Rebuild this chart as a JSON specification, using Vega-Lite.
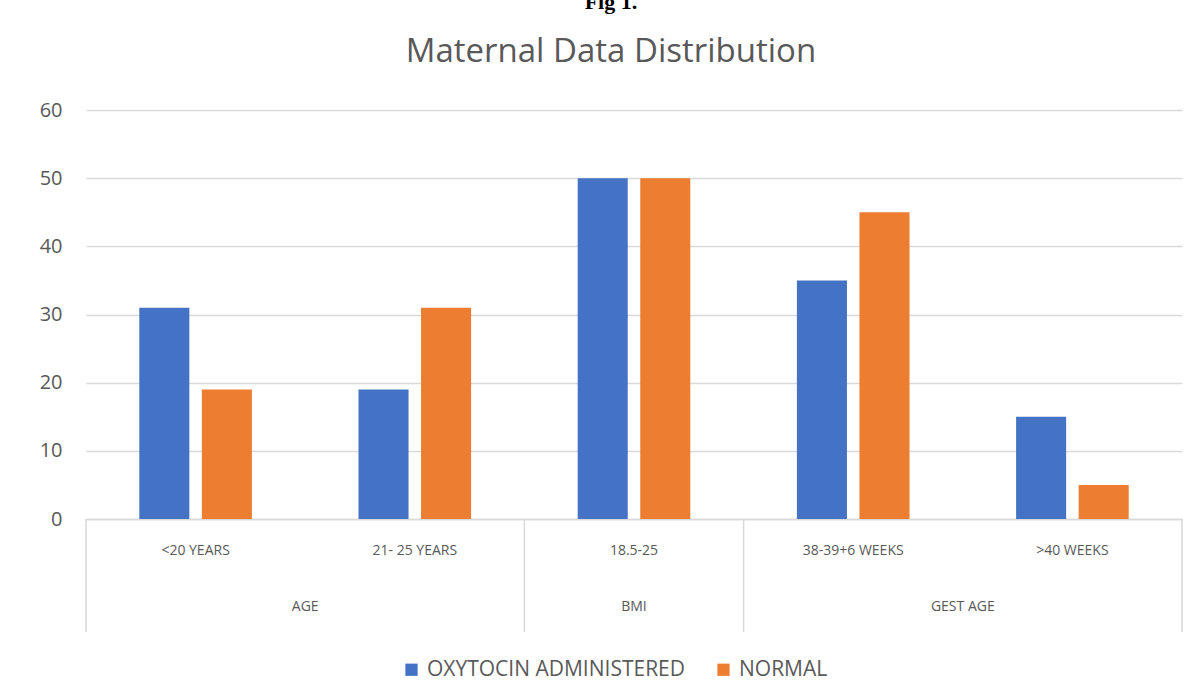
{
  "$schema": "https://vega.github.io/schema/vega-lite/v6.json",
  "background": "white",
  "padding": {"left": 39, "top": -9, "right": 18, "bottom": 20},
  "title": {
    "text": "Fig 1.",
    "font": "Liberation Serif",
    "fontWeight": "bold",
    "fontSize": 22,
    "color": "#000000",
    "subtitle": "Maternal Data Distribution",
    "subtitleFont": "Open Sans",
    "subtitleFontSize": 33,
    "subtitleColor": "#595959",
    "subtitlePadding": 22,
    "offset": 30,
    "anchor": "middle",
    "frame": "bounds"
  },
  "datasets": {
    "bars": [
      {"category": "<20 YEARS", "group": "AGE", "series": "OXYTOCIN ADMINISTERED", "value": 31},
      {"category": "<20 YEARS", "group": "AGE", "series": "NORMAL", "value": 19},
      {"category": "21- 25 YEARS", "group": "AGE", "series": "OXYTOCIN ADMINISTERED", "value": 19},
      {"category": "21- 25 YEARS", "group": "AGE", "series": "NORMAL", "value": 31},
      {"category": "18.5-25", "group": "BMI", "series": "OXYTOCIN ADMINISTERED", "value": 50},
      {"category": "18.5-25", "group": "BMI", "series": "NORMAL", "value": 50},
      {"category": "38-39+6 WEEKS", "group": "GEST AGE", "series": "OXYTOCIN ADMINISTERED", "value": 35},
      {"category": "38-39+6 WEEKS", "group": "GEST AGE", "series": "NORMAL", "value": 45},
      {"category": ">40 WEEKS", "group": "GEST AGE", "series": "OXYTOCIN ADMINISTERED", "value": 15},
      {"category": ">40 WEEKS", "group": "GEST AGE", "series": "NORMAL", "value": 5}
    ],
    "groupStarts": [
      {"category": "<20 YEARS"},
      {"category": "18.5-25"},
      {"category": "38-39+6 WEEKS"}
    ],
    "groupEnd": [
      {"category": ">40 WEEKS"}
    ],
    "subLabels": [
      {"category": "<20 YEARS", "level": "sub"},
      {"category": "21- 25 YEARS", "level": "sub"},
      {"category": "18.5-25", "level": "sub"},
      {"category": "38-39+6 WEEKS", "level": "sub"},
      {"category": ">40 WEEKS", "level": "sub"}
    ],
    "groupLabelsBetween": [
      {"group": "AGE", "category": "21- 25 YEARS", "level": "group"},
      {"group": "GEST AGE", "category": ">40 WEEKS", "level": "group"}
    ],
    "groupLabelsSingle": [
      {"group": "BMI", "category": "18.5-25", "level": "group"}
    ]
  },
  "bounds": "flush",
  "vconcat": [
    {
      "width": 1096,
      "height": 409,
      "data": {"name": "bars"},
      "mark": {"type": "bar"},
      "encoding": {
        "x": {
          "field": "category",
          "type": "nominal",
          "scale": {"domain": ["<20 YEARS", "21- 25 YEARS", "18.5-25", "38-39+6 WEEKS", ">40 WEEKS"], "paddingInner": 0, "paddingOuter": 0},
          "axis": {"labels": false, "ticks": false, "title": null, "grid": false, "domainColor": "#d9d9d9", "domainWidth": 1.5}
        },
        "xOffset": {
          "field": "series",
          "type": "nominal",
          "scale": {"domain": ["OXYTOCIN ADMINISTERED", "NORMAL"], "paddingInner": 0.2, "paddingOuter": 0.852}
        },
        "y": {
          "field": "value",
          "type": "quantitative",
          "scale": {"domain": [0, 60]},
          "axis": {
            "values": [0, 10, 20, 30, 40, 50, 60],
            "title": null,
            "ticks": false,
            "domain": false,
            "labelPadding": 24,
            "labelFont": "Open Sans",
            "labelFontSize": 20,
            "labelColor": "#595959",
            "gridColor": "#d9d9d9",
            "gridWidth": 1.5
          }
        },
        "color": {
          "field": "series",
          "type": "nominal",
          "scale": {"domain": ["OXYTOCIN ADMINISTERED", "NORMAL"], "range": ["#4472C4", "#ED7D31"]},
          "legend": {
            "title": null,
            "orient": "none",
            "direction": "horizontal",
            "legendX": 315,
            "legendY": 549,
            "symbolType": "square",
            "symbolSize": 150,
            "symbolStrokeWidth": 0,
            "labelFont": "Open Sans",
            "labelFontSize": 21,
            "labelColor": "#595959",
            "labelOffset": 5,
            "labelLimit": 400,
            "columnPadding": 27
          }
        }
      }
    },
    {
      "width": 1096,
      "height": 113,
      "encoding": {
        "x": {
          "field": "category",
          "type": "nominal",
          "scale": {"domain": ["<20 YEARS", "21- 25 YEARS", "18.5-25", "38-39+6 WEEKS", ">40 WEEKS"], "paddingInner": 0, "paddingOuter": 0},
          "axis": null
        }
      },
      "layer": [
        {
          "data": {"name": "groupStarts"},
          "mark": {"type": "rule", "color": "#d9d9d9", "strokeWidth": 1.5},
          "encoding": {
            "x": {"field": "category", "type": "nominal", "bandPosition": 0}
          }
        },
        {
          "data": {"name": "groupEnd"},
          "mark": {"type": "rule", "color": "#d9d9d9", "strokeWidth": 1.5},
          "encoding": {
            "x": {"field": "category", "type": "nominal", "bandPosition": 1}
          }
        },
        {
          "data": {"name": "subLabels"},
          "mark": {"type": "text", "font": "Open Sans", "fontSize": 14, "color": "#595959"},
          "encoding": {
            "y": {"field": "level", "type": "nominal", "scale": {"type": "point", "domain": ["sub", "group"], "padding": 0.509, "align": 0.561}, "axis": null},
            "text": {"field": "category"}
          }
        },
        {
          "data": {"name": "groupLabelsBetween"},
          "mark": {"type": "text", "font": "Open Sans", "fontSize": 14, "color": "#595959"},
          "encoding": {
            "x": {"field": "category", "type": "nominal", "bandPosition": 0},
            "y": {"field": "level", "type": "nominal", "scale": {"type": "point", "domain": ["sub", "group"], "padding": 0.509, "align": 0.561}, "axis": null},
            "text": {"field": "group"}
          }
        },
        {
          "data": {"name": "groupLabelsSingle"},
          "mark": {"type": "text", "font": "Open Sans", "fontSize": 14, "color": "#595959"},
          "encoding": {
            "y": {"field": "level", "type": "nominal", "scale": {"type": "point", "domain": ["sub", "group"], "padding": 0.509, "align": 0.561}, "axis": null},
            "text": {"field": "group"}
          }
        }
      ]
    }
  ],
  "spacing": 0,
  "config": {"view": {"stroke": null}, "font": "Open Sans"}
}
